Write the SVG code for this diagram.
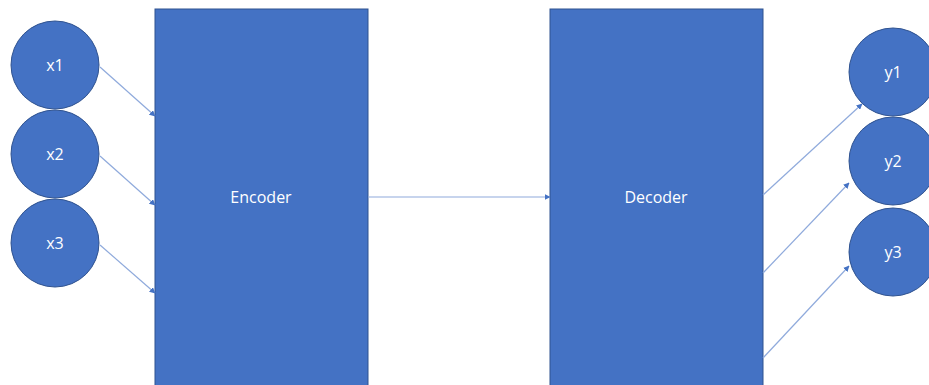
<svg xmlns="http://www.w3.org/2000/svg" width="929" height="385" viewBox="0 0 929 385">
  <style>
    .blk { fill: #4472C4; stroke: #2F528F; stroke-width: 1; }
    .lbl { fill: #ffffff; font-family: "Open Sans", "Liberation Sans", sans-serif; font-size: 16px; text-anchor: middle; dominant-baseline: central; }
    .edge { stroke: #8FAADC; stroke-width: 1.2; fill: none; marker-end: url(#arr); }
  </style>
  <defs>
    <marker id="arr" viewBox="0 0 10 10" refX="9" refY="5" markerWidth="6" markerHeight="6" orient="auto" markerUnits="userSpaceOnUse">
      <path d="M0,0 L10,5 L0,10 z" fill="#4472C4"/>
    </marker>
  </defs>
  <rect width="929" height="385" fill="#ffffff"/>

  <g id="encoder">
    <rect class="blk" x="155" y="9" width="213" height="380"/>
    <text class="lbl" x="261" y="197">Encoder</text>
  </g>
  <g id="decoder">
    <rect class="blk" x="550" y="9" width="213" height="380"/>
    <text class="lbl" x="656" y="197">Decoder</text>
  </g>

  <g id="x1"><circle class="blk" cx="55" cy="65" r="44"/><text class="lbl" x="55" y="65">x1</text></g>
  <g id="x2"><circle class="blk" cx="55" cy="154" r="44"/><text class="lbl" x="55" y="154">x2</text></g>
  <g id="x3"><circle class="blk" cx="55" cy="243" r="44"/><text class="lbl" x="55" y="243">x3</text></g>

  <g id="y1"><circle class="blk" cx="893" cy="72" r="44"/><text class="lbl" x="893" y="72">y1</text></g>
  <g id="y2"><circle class="blk" cx="893" cy="161" r="44"/><text class="lbl" x="893" y="161">y2</text></g>
  <g id="y3"><circle class="blk" cx="893" cy="252" r="44"/><text class="lbl" x="893" y="252">y3</text></g>

  <g id="connectors">
    <line class="edge" x1="100" y1="67" x2="155" y2="116"/>
    <line class="edge" x1="100" y1="156" x2="155" y2="205"/>
    <line class="edge" x1="100" y1="245" x2="155" y2="293"/>
    <line class="edge" x1="368" y1="197" x2="550" y2="197"/>
    <line class="edge" x1="763" y1="195" x2="862" y2="104"/>
    <line class="edge" x1="763" y1="273" x2="849" y2="183"/>
    <line class="edge" x1="763" y1="358" x2="849" y2="266"/>
  </g>
</svg>
